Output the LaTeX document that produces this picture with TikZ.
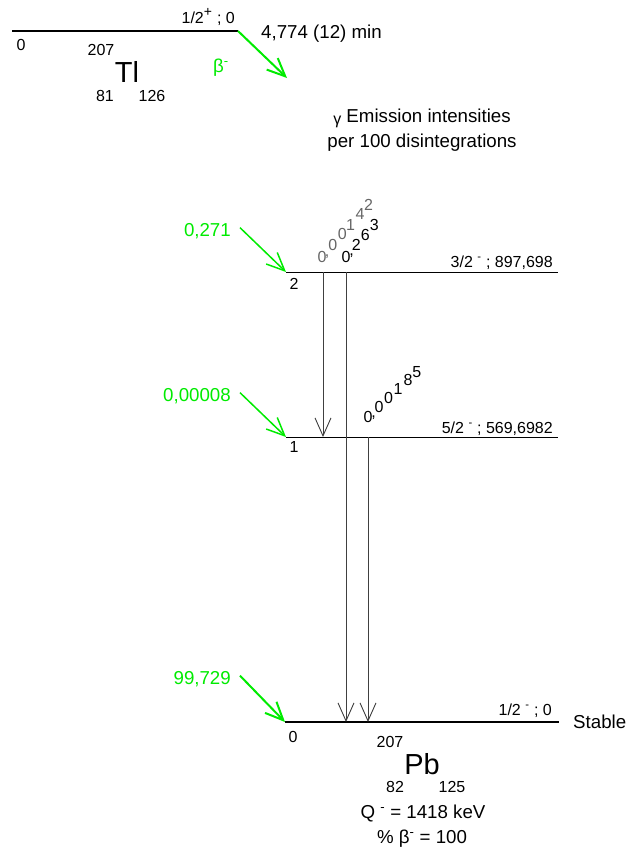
\documentclass[tikz,border=0pt]{standalone}
\usepackage{fontspec}
\setmainfont{Liberation Sans}
\usetikzlibrary{arrows.meta}
\definecolor{betagreen}{RGB}{0,235,0}
\definecolor{gamgray}{RGB}{64,64,64}
\tikzset{>={Straight Barb[length=18pt,width=16pt]}}
\tikzset{
	txt/.style={font=\fontsize{18.7}{25}\selectfont},
	sml/.style={font=\fontsize{16}{18}\selectfont},
	big/.style={font=\fontsize{29}{30}\selectfont},
	grn/.style={font=\fontsize{18.7}{20}\selectfont, text=betagreen},
	lvl/.style={line width=1pt},
	lvlthick/.style={line width=2.6pt},
	feed/.style={->, color=betagreen, line width=1.5pt},
	gam/.style={->, color=gamgray, line width=0.9pt}
}

\begin{document}
\begin{tikzpicture}[x=1pt, y=-1pt, inner sep=0pt]
	\useasboundingbox (0,0) rectangle (629,855);

	\coordinate (t0) at (12,31);
	\coordinate (t1) at (50,31);
	\coordinate (t2) at (238,31);
	\coordinate (tb) at (287,78);
	\draw[line width=1.8pt] (t0) -- (t1);
	\draw[lvlthick] (t1) -- (t2);
	\draw[feed, line width=2pt] (t2) -- (tb);

	\node[sml, anchor=base east] (tspin) at (235,23) {1/2\textsuperscript{\fontsize{14}{14}\selectfont +} ; 0};
	\node[sml] (tE) at (21,45) {0};
	\node[sml] (tA) at (101,50) {207};
	\node[big] (tl) at (127,72) {Tl};
	\node[sml] (tZ) at (105,96) {81};
	\node[sml] (tN) at (152,96) {126};
	\node[grn, anchor=base west] (tbeta) at (213,72) {β\textsuperscript{-}};
	\node[txt, anchor=base west] (thalf) at (261,38) {4,774 (12) min};

	\node[txt, align=center] (ghead) at (422,130) {\raisebox{-2pt}{\fontsize{16}{16}\selectfont γ} Emission intensities\\per 100 disintegrations};

	\coordinate (l2w) at (286,272);
	\coordinate (l2e) at (558,272);
	\coordinate (l1w) at (286,437);
	\coordinate (l1e) at (558,437);
	\coordinate (l0w) at (285,722);
	\coordinate (l0e) at (559,722);
	\draw[lvl] (l2w) -- (l2e);
	\draw[lvl] (l1w) -- (l1e);
	\draw[lvlthick] (l0w) -- (l0e);

	\node[sml, anchor=base east] (s2) at (553,267) {3/2 \textsuperscript{-} ; 897,698};
	\node[sml, anchor=base east] (s1) at (553,433) {5/2 \textsuperscript{-} ; 569,6982};
	\node[sml, anchor=base east] (s0) at (552,715) {1/2 \textsuperscript{-} ; 0};
	\node[sml] (n2) at (294,284) {2};
	\node[sml] (n1) at (294,447) {1};
	\node[sml] (n0) at (293,737) {0};
	\node[txt, anchor=west] (stab) at (573,722) {Stable};

	\node[grn, anchor=base east] (i2) at (231,236) {0,271};
	\node[grn, anchor=base east] (i1) at (231,401) {0,00008};
	\node[grn, anchor=base east] (i0) at (231,684) {99,729};
	\draw[feed] ([shift={(9,-3)}]i2.east) -- (l2w);
	\draw[feed] ([shift={(9,-3)}]i1.east) -- (l1w);
	\draw[feed, line width=2pt] ([shift={(9,-3)}]i0.east) -- (l0w);

	\coordinate (g1) at (323,0);
	\coordinate (g2) at (346,0);
	\coordinate (g3) at (368,0);
	\draw[gam] (g1 |- l2w) -- (g1 |- l1w);
	\draw[gam] (g2 |- l2w) -- (g2 |- l0w);
	\draw[gam] (g3 |- l1w) -- (g3 |- l0w);

	\foreach \ch/\t [count=\k] in {0/0, {,}/0.55, 0/1.15, 0/2.15, 1/3.05, 4/4.05, 2/4.95}
		\node[sml, text=black!60, anchor=base] (ga\k) at (322+9.4*\t, 262-10.4*\t) {\ch};
	\foreach \ch/\t [count=\k] in {0/0, {,}/0.6, 2/1.1, 6/2.05, 3/3}
		\node[sml, anchor=base] (gb\k) at (346+9.4*\t, 262-10.5*\t) {\ch};
	\foreach \ch/\t [count=\k] in {0/0, {,}/0.6, 0/1.17, 0/2.2, 1/3.2, 8/4.25, 5/5.2}
		\node[sml, anchor=base] (gc\k) at (368+9.4*\t, 422.5-8.7*\t) {\ch};

	\node[sml] (pA) at (390,742) {207};
	\node[big] (pb) at (422,764) {Pb};
	\node[sml] (pZ) at (395,787) {82};
	\node[sml] (pN) at (452,787) {125};
	\node[txt, anchor=base] (qv) at (423,818) {Q \textsuperscript{-} = 1418 keV};
	\node[txt, anchor=base] (pct) at (422,843) {\% β\textsuperscript{-} = 100};
\end{tikzpicture}
\end{document}
